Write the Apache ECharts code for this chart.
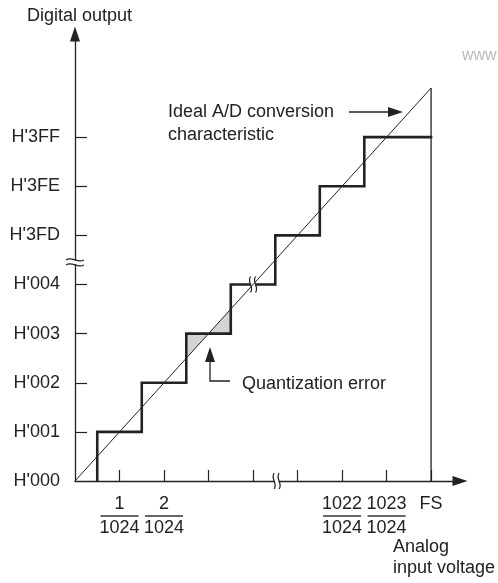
<!DOCTYPE html>
<html>
<head>
<meta charset="utf-8">
<script src="https://cdn.jsdelivr.net/npm/echarts@6/dist/echarts.min.js"></script>
<style>
html, body { margin: 0; padding: 0; background: #fff; }
#container { width: 498px; height: 583px; }
</style>
</head>
<body>
<div id="container"></div>
<script>
// 纵轴输出码
var outputCodes = ["H'000", "H'001", "H'002", "H'003", "H'004", "H'3FD", "H'3FE", "H'3FF"];
// 横轴刻度
var inputTicks = [1, 2, 3, 4, 5, 6, 7, 8];
// 横轴标签（分子），分母统一为1024
var labelTicks = [1, 2, 6, 7, 8];
var inputNums = { 1: '1', 2: '2', 6: '1022', 7: '1023' };
var inputDen = '1024';
var fullScale = 8;
// 码变化点（输入值）
var stepEdges = [0.5, 1.5, 2.5, 3.5, 4.5, 5.5, 6.5];
// 量化误差阴影所在的码
var errorCode = 3;
// 断开标记 [x, y, 方向 0=竖 1=横]
var breakMarks = [[4.53, 0, 0], [4, 4, 0], [0, 4.45, 1]];

var FONT = '"Liberation Sans", Arial, sans-serif';
var INK = '#222';
var FS18 = '18px ' + FONT;

// 阶梯线
var stairData = [[stepEdges[0], 0]];
for (var i = 0; i < stepEdges.length; i++) {
	var nextX = i + 1 < stepEdges.length ? stepEdges[i + 1] : fullScale;
	stairData.push([stepEdges[i], i + 1]);
	stairData.push([nextX, i + 1]);
}
// 量化误差三角形
var k = errorCode;
var errData = [
	[k - 0.5, k - 0.5, k - 0.5, k, k, k],
	[k, k, k + 0.5, k, k + 0.5, k + 0.5]
];

var dom = document.getElementById('container');
var myChart = echarts.init(dom);

var option = {
	animation: false,
	grid: { left: 75, right: 38, top: 34, bottom: 102 },
	xAxis: {
		type: 'value', min: 0, max: 8.65,
		splitLine: { show: false },
		axisLine: { lineStyle: { color: INK, width: 1.3 }, symbol: ['none', 'triangle'], symbolSize: [10, 15] },
		axisTick: { show: true, inside: true, length: 11, customValues: inputTicks, lineStyle: { color: INK, width: 1.2 } },
		axisLabel: {
			customValues: labelTicks,
			margin: 13,
			formatter: function(v) {
				if (v == fullScale) return '{n|FS}\n{e| }\n{d| }';
				return '{n|' + inputNums[v] + '}\n{b| }\n{d|' + inputDen + '}';
			},
			rich: {
				n: { fontFamily: FONT, fontSize: 18, color: INK, lineHeight: 20, align: 'center' },
				d: { fontFamily: FONT, fontSize: 18, color: INK, lineHeight: 20, align: 'center' },
				b: { fontSize: 1, width: 38, height: 1.5, lineHeight: 4, backgroundColor: '#333', align: 'center' },
				e: { fontSize: 1, height: 1.5, lineHeight: 4 }
			}
		}
	},
	yAxis: {
		type: 'value', min: 0, max: 9.1,
		splitLine: { show: false },
		axisLine: { lineStyle: { color: INK, width: 1.3 }, symbol: ['none', 'triangle'], symbolSize: [10, 15] },
		axisTick: { show: true, inside: true, length: 12, customValues: [1, 2, 3, 4, 5, 6, 7], lineStyle: { color: INK, width: 1.2 } },
		axisLabel: {
			customValues: [0, 1, 2, 3, 4, 5, 6, 7],
			margin: 15,
			fontFamily: FONT, fontSize: 18, color: INK,
			formatter: function(v) { return outputCodes[v]; }
		}
	},
	series: [
		{
			// 量化误差
			type: 'custom', z: 1, silent: true,
			data: errData,
			renderItem: function(params, api) {
				var pts = [];
				for (var j = 0; j < 3; j++) pts.push(api.coord([api.value(j * 2), api.value(j * 2 + 1)]));
				return { type: 'polygon', shape: { points: pts }, style: { fill: '#d4d4d4', stroke: null } };
			}
		},
		{
			// 满量程竖线
			type: 'line', z: 2, symbol: 'none', silent: true,
			data: [[fullScale, 0], [fullScale, fullScale]],
			lineStyle: { color: INK, width: 1.3 }
		},
		{
			// 阶梯
			type: 'line', z: 3, symbol: 'none', silent: true,
			data: stairData,
			lineStyle: { color: INK, width: 2.6, join: 'miter', cap: 'square' }
		},
		{
			// 断开标记
			type: 'custom', z: 4, silent: true, clip: false,
			data: breakMarks,
			renderItem: function(params, api) {
				var c = api.coord([api.value(0), api.value(1)]);
				var x = c[0], y = c[1], ch = [];
				if (api.value(2) == 0) {
					ch.push({ type: 'rect', shape: { x: x - 2, y: y - 6, width: 4, height: 12 }, style: { fill: '#fff' } });
					for (var s = -1; s <= 1; s += 2) {
						var xx = x + s * 2.5;
						ch.push({ type: 'bezierCurve', shape: { x1: xx, y1: y - 8, cpx1: xx - 4, cpy1: y - 2, cpx2: xx + 4, cpy2: y + 2, x2: xx, y2: y + 8 }, style: { stroke: INK, lineWidth: 1.2, fill: null } });
					}
				} else {
					ch.push({ type: 'rect', shape: { x: x - 6, y: y - 2, width: 12, height: 4 }, style: { fill: '#fff' } });
					for (var s2 = -1; s2 <= 1; s2 += 2) {
						var yy = y + s2 * 2.5;
						ch.push({ type: 'bezierCurve', shape: { x1: x - 9, y1: yy, cpx1: x - 3, cpy1: yy - 4, cpx2: x + 3, cpy2: yy + 4, x2: x + 9, y2: yy }, style: { stroke: INK, lineWidth: 1.2, fill: null } });
					}
				}
				return { type: 'group', children: ch };
			}
		},
		{
			// 理想特性
			type: 'line', z: 5, symbol: 'none', silent: true,
			data: [[0, 0], [fullScale, fullScale]],
			lineStyle: { color: INK, width: 1 }
		}
	],
	graphic: [
		{ type: 'text', x: 27, y: 16, style: { text: 'Digital output', fill: INK, font: FS18, verticalAlign: 'middle' } },
		{ type: 'text', x: 168, y: 112, style: { text: 'Ideal A/D conversion', fill: INK, font: FS18, verticalAlign: 'middle' } },
		{ type: 'text', x: 168, y: 135, style: { text: 'characteristic', fill: INK, font: FS18, verticalAlign: 'middle' } },
		{ type: 'line', shape: { x1: 349, y1: 112, x2: 392, y2: 112 }, style: { stroke: INK, lineWidth: 1.3 } },
		{ type: 'polygon', shape: { points: [[388, 107], [403, 112], [388, 117]] }, style: { fill: INK } },
		{ type: 'polyline', shape: { points: [[230, 381], [210, 381], [210, 360]] }, style: { stroke: INK, lineWidth: 1.3, fill: null } },
		{ type: 'polygon', shape: { points: [[205, 362], [210, 347], [215, 362]] }, style: { fill: INK } },
		{ type: 'text', x: 242, y: 384, style: { text: 'Quantization error', fill: INK, font: FS18, verticalAlign: 'middle' } },
		{ type: 'text', x: 393, y: 547, style: { text: 'Analog', fill: INK, font: FS18, verticalAlign: 'middle' } },
		{ type: 'text', x: 393, y: 568, style: { text: 'input voltage', fill: INK, font: FS18, verticalAlign: 'middle' } },
		{ type: 'text', x: 462, y: 56, style: { text: 'www', fill: '#bbb', font: '16px ' + FONT, verticalAlign: 'middle' } }
	]
};
myChart.setOption(option);
</script>
</body>
</html>
